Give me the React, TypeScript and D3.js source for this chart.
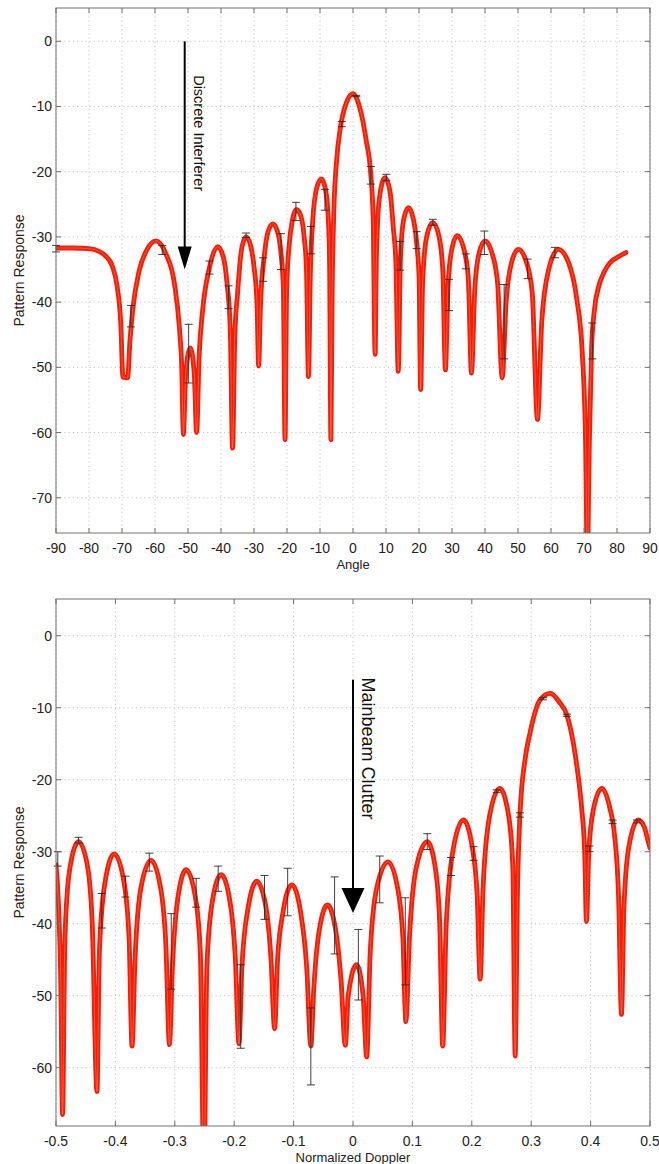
import React from "react";
import * as d3 from "d3";

// ---- top panel: pattern vs angle ----
const angleTicks = [-90, -80, -70, -60, -50, -40, -30, -20, -10, 0, 10, 20, 30, 40, 50, 60, 70, 80, 90];
const angleDbTicks = [0, -10, -20, -30, -40, -50, -60, -70];

// [angle, dB]
const anglePattern: [number, number][] = [
  [-90, -31.7], [-85, -31.7], [-80, -31.8], [-77, -32.2], [-75, -32.9], [-73, -34.4], [-71.5, -37.5],
  [-70.4, -43], [-69.7, -51.5], [-68.3, -51.6], [-67.6, -46], [-66.8, -41.4], [-64.8, -35.2], [-62.7, -32.2],
  [-59.7, -30.6], [-56.7, -32.6], [-54.1, -37.2], [-52.6, -44], [-51.9, -50], [-51.4, -60.3], [-50.7, -51],
  [-49.3, -47], [-48.1, -51], [-47.4, -60], [-46.6, -48], [-45.6, -41.4], [-43.5, -34.7], [-41, -31.5],
  [-39.2, -33.3], [-38.2, -37], [-37.2, -44], [-36.5, -62.4], [-35.8, -45], [-35, -38.8], [-33.8, -32],
  [-32.4, -30], [-31, -31.4], [-29.9, -35], [-29.1, -40], [-28.6, -49.8], [-28, -40], [-26.9, -33],
  [-25.8, -29.3], [-24.3, -28], [-23, -29], [-21.8, -32.6], [-21.1, -38], [-20.6, -61.1], [-20.1, -38],
  [-19.3, -31], [-18.3, -27.3], [-17.2, -25.8], [-16, -26.5], [-14.8, -30], [-14.1, -35], [-13.5, -51.4],
  [-12.9, -35], [-12.2, -27.5], [-11, -22.5], [-9.6, -21.1], [-8.3, -22.8], [-7.5, -27], [-7.1, -34],
  [-6.7, -61.1], [-6.3, -38], [-5.8, -26], [-5, -18.5], [-3.9, -13.5], [-2, -9.4], [0, -8.05], [2.1, -10.3],
  [4, -15.2], [5.4, -20.5], [6.1, -27], [6.7, -48], [7.1, -33], [8, -24], [9.7, -20.9], [11.2, -23],
  [12.2, -28.5], [13, -34], [13.7, -50.6], [14.4, -33], [15.3, -27.5], [16.8, -25.5], [18.3, -27.3],
  [19.4, -31.5], [20, -36], [20.5, -53.4], [21.1, -37], [22.3, -30], [24.2, -27.8], [26, -29.8], [27.2, -35],
  [28, -50.4], [28.8, -37.5], [29.9, -32], [31.6, -29.8], [33.4, -31.5], [34.9, -36], [35.9, -50.9],
  [36.9, -38], [38.2, -32.5], [40, -30.6], [42, -32.3], [43.8, -37], [45.2, -51.6], [46.4, -40], [48, -34],
  [50.1, -31.9], [52.3, -33.5], [54.3, -38.5], [55.9, -58], [57.2, -43], [59.3, -35], [62.2, -31.9],
  [65.2, -33.8], [67.8, -39.5], [69.5, -48], [70.5, -62], [71, -80], [71.6, -62], [72.3, -47], [73.2, -41],
  [74.5, -37.5], [76, -35.5], [77.8, -34], [79.9, -33.2], [82.7, -32.4],
];

// [angle, upper, lower]
const angleErrors: [number, number, number][] = [
  [-90, -31.3, -32.3], [-67.3, -40.5, -43.8], [-57.8, -31.3, -32.7], [-49.8, -43.4, -52.4],
  [-43.5, -33.7, -35.7], [-37.7, -37.5, -41], [-32.4, -29.4, -30.1], [-27.2, -33.2, -36.8],
  [-21.8, -29.5, -35], [-17.3, -24.7, -27.5], [-12.7, -28.4, -32.6], [-8.5, -22.7, -25.9],
  [-3.4, -12.3, -13.1], [1, -8.3, -8.5], [5.4, -19.2, -21.9], [10.1, -20.4, -21.4], [14.3, -30.7, -35.1],
  [19.3, -29.2, -31.8], [24.2, -27.3, -28.2], [29.1, -36.5, -41.3], [34.2, -32.6, -34.9], [39.8, -29.1, -32.7],
  [45.8, -37.3, -48.7], [52.9, -33.4, -36.4], [61.2, -31.6, -33.2], [72.5, -43.2, -48.7],
];

// ---- bottom panel: pattern vs normalized Doppler ----
const dopplerTicks = [-0.5, -0.4, -0.3, -0.2, -0.1, 0, 0.1, 0.2, 0.3, 0.4, 0.5];
const dopplerDbTicks = [0, -10, -20, -30, -40, -50, -60];

const dopplerPattern: [number, number][] = [
  [-0.5, -31.8], [-0.496, -37], [-0.492, -48], [-0.489, -66.5],
  [-0.485, -42], [-0.477, -32.5], [-0.462, -28.6], [-0.447, -32], [-0.439, -40], [-0.431, -63.3],
  [-0.427, -44], [-0.418, -34.5], [-0.402, -30.3], [-0.386, -34], [-0.377, -42], [-0.372, -57],
  [-0.367, -45], [-0.357, -35], [-0.34, -31.2], [-0.324, -35], [-0.315, -43], [-0.309, -56.8],
  [-0.304, -46], [-0.295, -36.5], [-0.281, -32.5], [-0.266, -36], [-0.257, -44], [-0.251, -75],
  [-0.246, -46], [-0.237, -37], [-0.222, -33.2], [-0.207, -37], [-0.198, -45], [-0.192, -56.7],
  [-0.187, -46], [-0.177, -38], [-0.162, -34.1], [-0.147, -37.5], [-0.138, -45], [-0.132, -54.6],
  [-0.127, -45], [-0.118, -38.5], [-0.103, -34.6], [-0.088, -38.5], [-0.078, -46], [-0.071, -57],
  [-0.066, -49], [-0.057, -41], [-0.043, -37.4], [-0.029, -41], [-0.02, -48], [-0.013, -56.9],
  [-0.008, -50], [0.006, -45.7], [0.017, -50], [0.023, -58.5],
  [0.029, -44], [0.04, -35], [0.059, -31.4], [0.075, -35], [0.084, -42], [0.089, -53.6],
  [0.095, -42], [0.107, -32], [0.125, -28.6], [0.139, -32.5], [0.146, -40], [0.151, -57],
  [0.157, -40], [0.169, -29.5], [0.186, -25.6], [0.201, -29.5], [0.209, -36], [0.214, -47.7],
  [0.219, -35], [0.23, -25], [0.247, -21.2], [0.262, -25], [0.269, -32], [0.273, -58.4],
  [0.277, -35], [0.281, -25], [0.29, -17], [0.298, -13.5], [0.315, -8.9], [0.332, -8], [0.348, -9.3],
  [0.36, -11], [0.377, -18.2], [0.385, -24], [0.39, -30], [0.393, -39.7],
  [0.397, -30], [0.405, -24], [0.419, -21.2], [0.432, -23.8], [0.44, -27.5], [0.447, -36], [0.452, -52.6],
  [0.456, -38], [0.464, -29.5], [0.48, -25.6], [0.49, -26.5], [0.497, -28.6], [0.5, -29.5],
];

const dopplerErrors: [number, number, number][] = [
  [-0.497, -30, -32], [-0.462, -28, -28.8], [-0.423, -35.8, -40.6], [-0.383, -33.4, -36.3],
  [-0.343, -30.2, -32.7], [-0.306, -38.6, -49.1], [-0.264, -33.7, -37.7], [-0.227, -32, -35.5],
  [-0.189, -45.7, -57.3], [-0.149, -33.3, -39.4], [-0.11, -32.3, -38.9], [-0.071, -51.7, -62.4],
  [-0.031, -33.5, -44.2], [0.009, -40.8, -50.6], [0.045, -30.6, -37.1], [0.088, -36.4, -48.5],
  [0.125, -27.5, -29.7], [0.165, -30.8, -33.3], [0.203, -29.3, -31.2], [0.242, -21.4, -21.8],
  [0.281, -24.6, -25.2], [0.32, -8.6, -8.9], [0.36, -10.9, -11.2], [0.398, -29.2, -30],
  [0.437, -25.6, -26.1], [0.478, -25.6, -26],
];

const FONT = "'Liberation Sans', Arial, Helvetica, sans-serif";
const LEFT = 56;
const RIGHT = 650;

type Note = { at: number; from: number; to: number; text: string; textAt: number; size: number; head: [number, number] };

function Panel(props: {
  top: number;
  bottom: number;
  xDomain: [number, number];
  yDomain: [number, number];
  xTicks: number[];
  yTicks: number[];
  fmt: (v: number) => string;
  pattern: [number, number][];
  errors: [number, number, number][];
  xLabel: string;
  note: Note;
}) {
  const { top, bottom, xDomain, yDomain, xTicks, yTicks, fmt, pattern, errors, xLabel, note } = props;
  const x = d3.scaleLinear().domain(xDomain).range([LEFT, RIGHT]);
  const y = d3.scaleLinear().domain(yDomain).range([bottom, top]);
  const line = d3
    .line<[number, number]>()
    .x((d) => x(d[0]))
    .y((d) => y(d[1]))
    .curve(d3.curveMonotoneX);
  const clipId = `clip-${top}`;
  const path = line(pattern) || "";
  const ax = x(note.at);
  const tip = y(note.to);
  const [hw, hh] = note.head;

  return (
    <g>
      <defs>
        <clipPath id={clipId}>
          <rect x={LEFT} y={top} width={RIGHT - LEFT} height={bottom - top} />
        </clipPath>
      </defs>
      <rect x={LEFT} y={top} width={RIGHT - LEFT} height={bottom - top} fill="#fff" />
      {/* grid */}
      {xTicks.map((t) => (
        <line key={"gx" + t} x1={x(t)} x2={x(t)} y1={top} y2={bottom} stroke="#c4c4c4" strokeDasharray="1.2,3" />
      ))}
      {yTicks.map((t) => (
        <line key={"gy" + t} x1={LEFT} x2={RIGHT} y1={y(t)} y2={y(t)} stroke="#c4c4c4" strokeDasharray="1.2,3" />
      ))}
      <g clipPath={`url(#${clipId})`}>
        <path d={path} fill="none" stroke="#f81c02" strokeWidth={4.8} strokeLinejoin="round" strokeLinecap="round" />
        <path d={path} fill="none" stroke="#fff" strokeOpacity={0.3} strokeWidth={0.8} />
      </g>
      {/* error bars */}
      {errors.map(([ex, hi, lo]) => (
        <g key={"e" + ex} stroke="#2a2a2a" strokeWidth={0.9}>
          <line x1={x(ex)} x2={x(ex)} y1={y(hi)} y2={y(lo)} />
          <line x1={x(ex) - 4} x2={x(ex) + 4} y1={y(hi)} y2={y(hi)} />
          <line x1={x(ex) - 4} x2={x(ex) + 4} y1={y(lo)} y2={y(lo)} />
        </g>
      ))}
      {/* annotation arrow */}
      <line x1={ax} x2={ax} y1={y(note.from)} y2={tip - hh + 2} stroke="#000" strokeWidth={2} />
      <path d={`M${ax - hw / 2},${tip - hh} L${ax + hw / 2},${tip - hh} L${ax},${tip} Z`} fill="#000" />
      <text
        transform={`translate(${ax + 9},${y(note.textAt)}) rotate(90)`}
        fontFamily={FONT}
        fontSize={note.size}
        fill="#111"
      >
        {note.text}
      </text>
      {/* frame and ticks */}
      <rect x={LEFT} y={top} width={RIGHT - LEFT} height={bottom - top} fill="none" stroke="#707070" strokeWidth={1} />
      {xTicks.map((t) => (
        <g key={"tx" + t} stroke="#707070">
          <line x1={x(t)} x2={x(t)} y1={bottom} y2={bottom - 5} />
          <line x1={x(t)} x2={x(t)} y1={top} y2={top + 5} />
        </g>
      ))}
      {yTicks.map((t) => (
        <g key={"ty" + t} stroke="#707070">
          <line x1={LEFT} x2={LEFT + 5} y1={y(t)} y2={y(t)} />
          <line x1={RIGHT} x2={RIGHT - 5} y1={y(t)} y2={y(t)} />
        </g>
      ))}
      {xTicks.map((t) => (
        <text key={"lx" + t} x={x(t)} y={bottom + 20} textAnchor="middle" fontFamily={FONT} fontSize={14} fill="#222">
          {fmt(t)}
        </text>
      ))}
      {yTicks.map((t) => (
        <text key={"ly" + t} x={LEFT - 4} y={y(t) + 5} textAnchor="end" fontFamily={FONT} fontSize={14} fill="#222">
          {String(t)}
        </text>
      ))}
      <text x={x(0)} y={bottom + 36} textAnchor="middle" fontFamily={FONT} fontSize={13} fill="#222">
        {xLabel}
      </text>
      <text
        transform={`translate(24,${(top + bottom) / 2}) rotate(-90)`}
        textAnchor="middle"
        fontFamily={FONT}
        fontSize={14}
        fill="#222"
      >
        Pattern Response
      </text>
    </g>
  );
}

export default function App() {
  return (
    <svg
      width={659}
      height={1164}
      style={{ position: "absolute", left: 0, top: 0, background: "#fff" }}
    >
      <Panel
        top={8}
        bottom={533}
        xDomain={[-90, 90]}
        yDomain={[-75.4, 5.1]}
        xTicks={angleTicks}
        yTicks={angleDbTicks}
        fmt={(v) => String(v)}
        pattern={anglePattern}
        errors={angleErrors}
        xLabel="Angle"
        note={{ at: -51, from: 0, to: -35, text: "Discrete Interferer", textAt: -5.2, size: 14.5, head: [14, 23] }}
      />
      <Panel
        top={599}
        bottom={1126}
        xDomain={[-0.5, 0.5]}
        yDomain={[-68.1, 5.1]}
        xTicks={dopplerTicks}
        yTicks={dopplerDbTicks}
        fmt={(v) => (v === 0 ? "0" : v.toFixed(1))}
        pattern={dopplerPattern}
        errors={dopplerErrors}
        xLabel="Normalized Doppler"
        note={{ at: 0, from: -6.1, to: -38.5, text: "Mainbeam Clutter", textAt: -5.8, size: 18, head: [23, 25] }}
      />
    </svg>
  );
}
